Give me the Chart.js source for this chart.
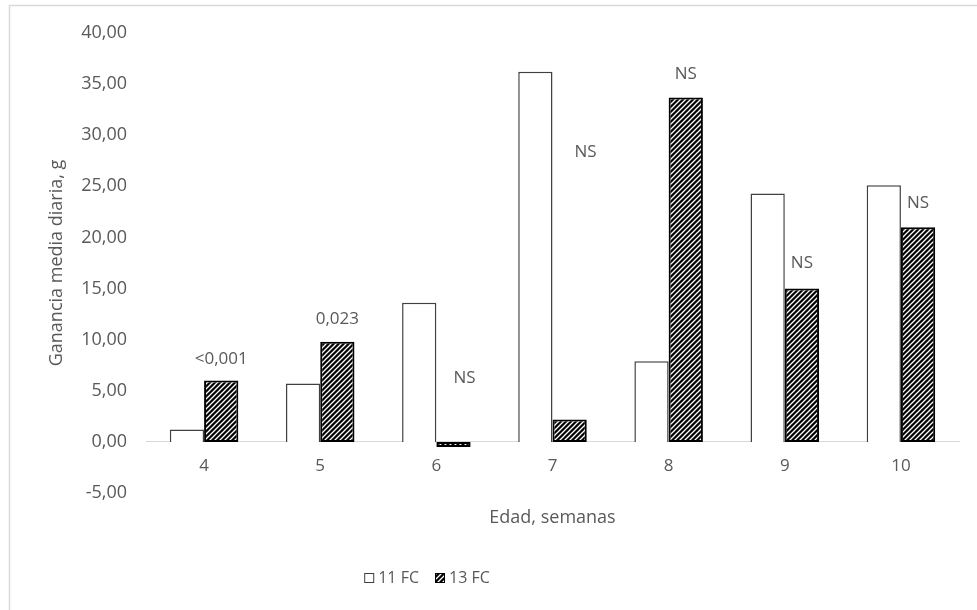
<!DOCTYPE html>
<html>
<head>
<meta charset="utf-8">
<script src="https://cdn.jsdelivr.net/npm/chart.js@4.4.1/dist/chart.umd.min.js"></script>
<style>
  html, body { margin: 0; padding: 0; background: #fff; }
  #wrap { width: 977px; height: 610px; }
</style>
</head>
<body>
<div id="wrap"><canvas id="gmdChart" width="977" height="610"></canvas></div>
<script>
// datos
const semanas = ['4', '5', '6', '7', '8', '9', '10'];
const fc11 = [1.2, 5.7, 13.6, 36.2, 7.9, 24.3, 25.1];
const fc13 = [6.0, 9.8, -0.5, 2.2, 33.7, 15.0, 21.0];
const pValores = ['<0,001', '0,023', 'NS', 'NS', 'NS', 'NS', 'NS'];
const yTicks = [-5, 0, 5, 10, 15, 20, 25, 30, 35, 40];

const gris = '#595959';
const fuente = '"Open Sans", "Noto Sans", sans-serif';

// trama diagonal para 13 FC
function trama() {
  const c = document.createElement('canvas');
  c.width = 5; c.height = 5;
  const g = c.getContext('2d');
  g.fillStyle = '#000';
  g.fillRect(0, 0, 5, 5);
  g.strokeStyle = '#fff';
  g.lineWidth = 1.3;
  g.beginPath();
  g.moveTo(-1, 6); g.lineTo(6, -1);
  g.moveTo(-1, 1); g.lineTo(1, -1);
  g.moveTo(4, 6); g.lineTo(6, 4);
  g.stroke();
  return g.createPattern(c, 'repeat');
}

const marco = {
  id: 'marco',
  beforeDraw(chart) {
    const ctx = chart.ctx;
    ctx.save();
    ctx.fillStyle = '#fff';
    ctx.fillRect(0, 0, chart.width, chart.height);
    ctx.strokeStyle = '#d9d9d9';
    ctx.lineWidth = 1.5;
    ctx.strokeRect(9.5, 5.5, chart.width + 20, chart.height + 20);
    ctx.restore();
  }
};

const etiquetasP = {
  id: 'etiquetasP',
  afterDatasetsDraw(chart, args, opts) {
    const meta = chart.getDatasetMeta(1);
    const y = chart.scales.y;
    const ctx = chart.ctx;
    ctx.save();
    ctx.font = '17px ' + fuente;
    ctx.fillStyle = gris;
    ctx.textAlign = 'center';
    ctx.textBaseline = 'middle';
    pValores.forEach((t, i) => {
      const bar = meta.data[i];
      ctx.fillText(t, bar.x + opts.shift[i], y.getPixelForValue(opts.at[i]));
    });
    ctx.restore();
  }
};

const leyenda = {
  id: 'leyenda',
  afterDraw(chart, args, opts) {
    const ctx = chart.ctx;
    const ds = chart.data.datasets;
    ctx.save();
    ctx.font = '16px ' + fuente;
    ctx.textBaseline = 'middle';
    ctx.textAlign = 'left';
    const box = 10, gap = 4, sep = 16;
    let total = 0;
    ds.forEach((d, i) => {
      total += box + gap + ctx.measureText(d.label).width + (i < ds.length - 1 ? sep : 0);
    });
    let x = opts.cx - total / 2;
    const y = opts.cy;
    ds.forEach(d => {
      ctx.fillStyle = d.backgroundColor;
      ctx.fillRect(x, y - box / 2, box, box);
      ctx.strokeStyle = d.borderColor;
      ctx.lineWidth = 1;
      ctx.strokeRect(x + 0.5, y - box / 2 + 0.5, box - 1, box - 1);
      x += box + gap;
      ctx.fillStyle = gris;
      ctx.fillText(d.label, x, y);
      x += ctx.measureText(d.label).width + sep;
    });
    ctx.restore();
  }
};

const data = {
  labels: semanas,
  datasets: [{
    label: '11 FC',
    data: fc11,
    backgroundColor: '#ffffff',
    borderColor: '#404040',
    borderWidth: 1.5,
    barPercentage: 1,
    categoryPercentage: 0.59
  },
  {
    label: '13 FC',
    data: fc13,
    backgroundColor: trama(),
    borderColor: '#000000',
    borderWidth: 2,
    borderSkipped: false,
    barPercentage: 1,
    categoryPercentage: 0.59
  }]
};

const config = {
  type: 'bar',
  data,
  options: {
    responsive: false,
    animation: false,
    layout: { padding: { left: 30, top: 33, right: 18, bottom: 117 } },
    plugins: {
      legend: { display: false },
      tooltip: { enabled: false },
      etiquetasP: {
        at: [8.1, 12.0, 6.2, 28.3, 36.0, 17.5, 23.4],
        shift: [0, 0, 11, 16, 0, 0, 0]
      },
      leyenda: { cx: 427, cy: 578 }
    },
    scales: {
      x: {
        position: { y: 0 },
        grid: { display: false, drawTicks: false },
        border: { display: true, color: '#d9d9d9', width: 1 },
        ticks: { color: gris, font: { family: fuente, size: 17 }, padding: 14 },
        title: {
          display: true,
          text: 'Edad, semanas',
          color: gris,
          font: { family: fuente, size: 18 },
          padding: { top: 0, bottom: 31 }
        },
        afterFit(scale) { scale.height = 118; }
      },
      y: {
        min: -5,
        max: 40,
        afterBuildTicks(scale) { scale.ticks = yTicks.map(v => ({ value: v })); },
        grid: { display: false, drawTicks: false },
        border: { display: false },
        ticks: {
          color: gris,
          font: { family: fuente, size: 18 },
          padding: 19,
          callback: v => v.toFixed(2).replace('.', ',')
        },
        title: {
          display: true,
          text: 'Ganancia media diaria, g',
          color: gris,
          font: { family: fuente, size: 18 },
          padding: { top: 16, bottom: 0 }
        },
        afterFit(scale) { scale.width = 116; }
      }
    }
  },
  plugins: [marco, etiquetasP, leyenda]
};

const gmdChart = new Chart(document.getElementById('gmdChart'), config);
</script>
</body>
</html>
